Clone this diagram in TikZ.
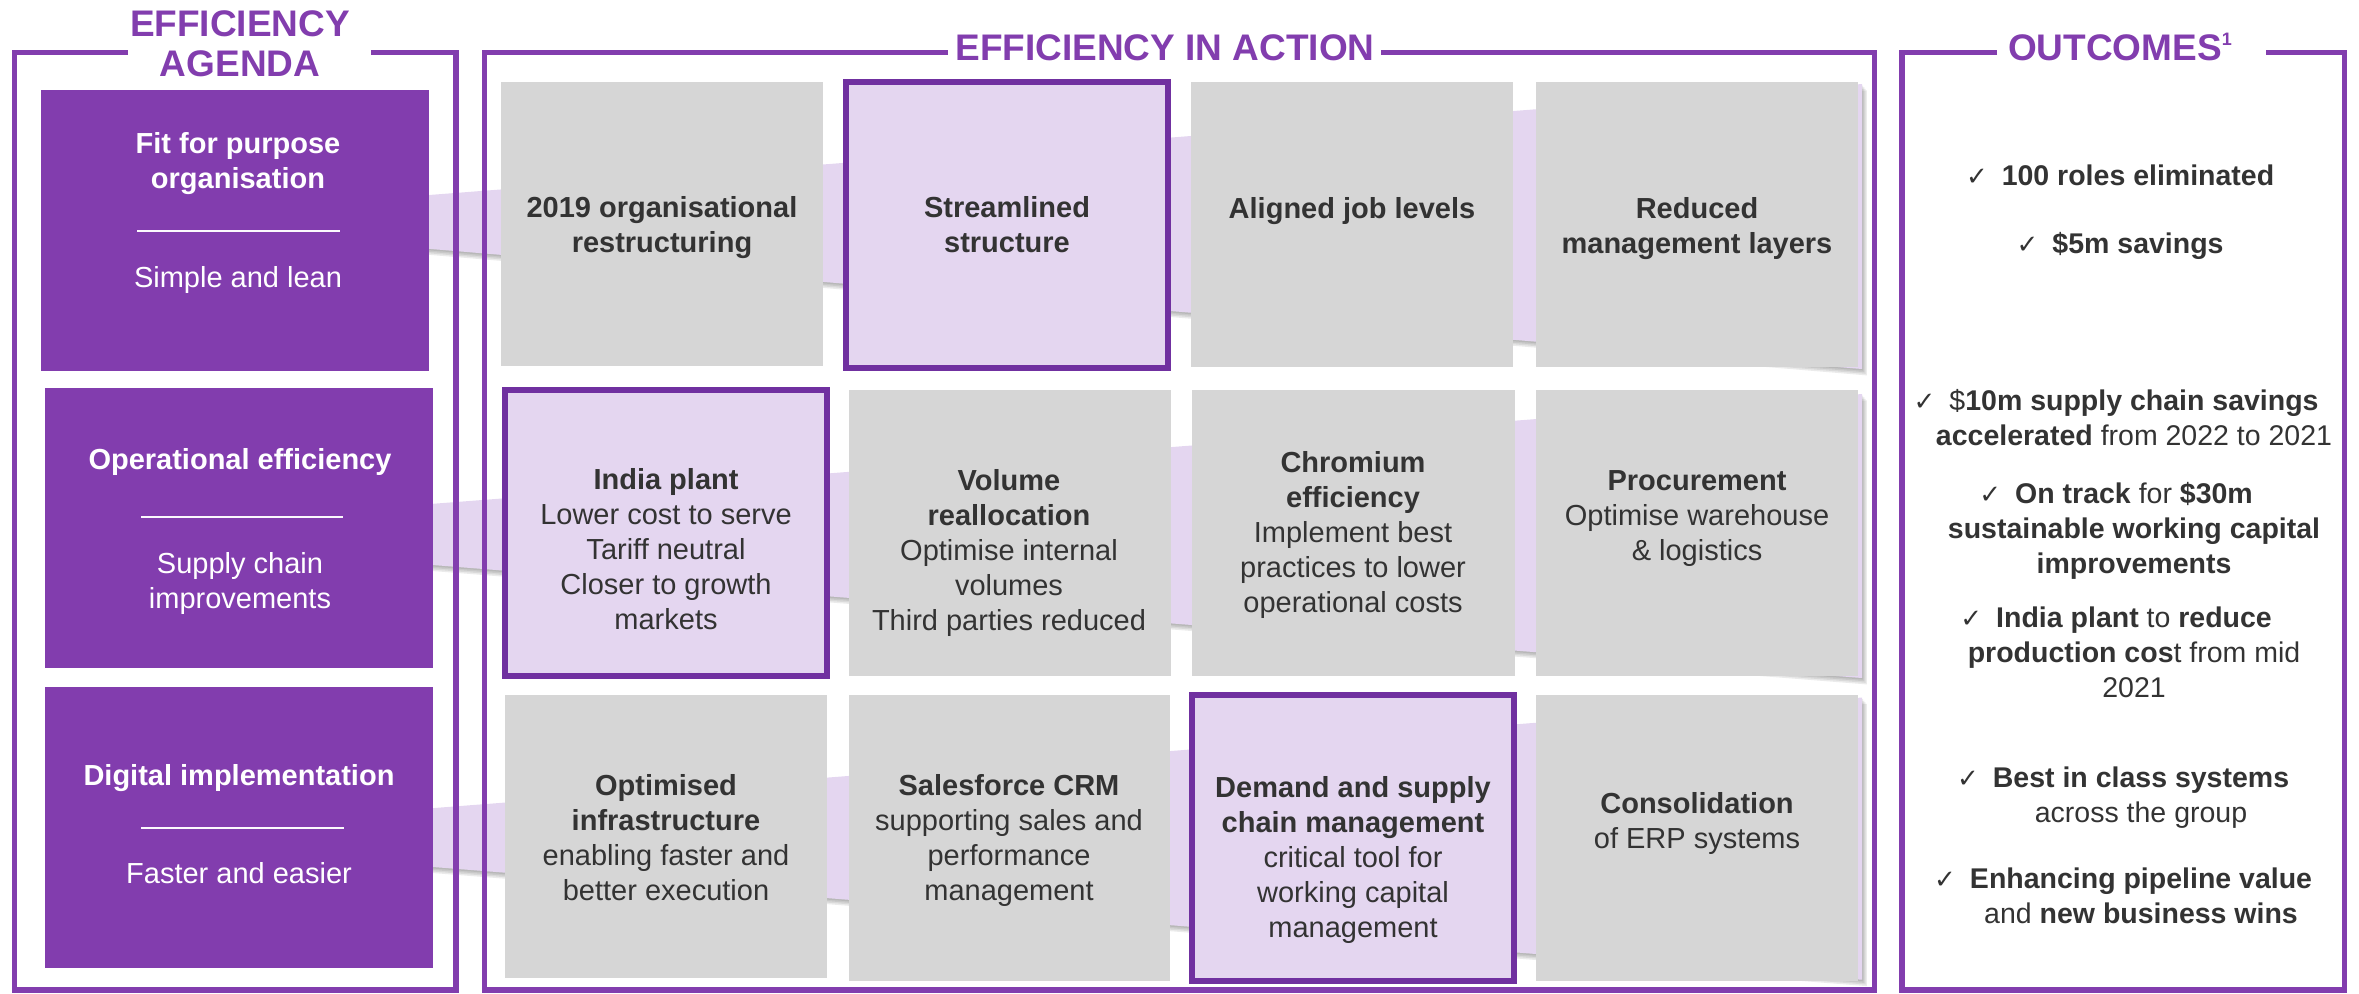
\documentclass[tikz,border=0pt]{standalone}
\usepackage{fontspec}
\setmainfont{Liberation Sans}
\newfontfamily\symfont{DejaVu Sans}
\usetikzlibrary{calc}

\definecolor{agendapurple}{RGB}{130,61,174}
\definecolor{deeppurple}{RGB}{112,48,160}
\definecolor{lavender}{RGB}{228,214,240}
\definecolor{tilegray}{RGB}{214,214,214}
\definecolor{inkgray}{RGB}{51,51,51}

\newcommand{\titlefont}{\fontsize{18.5pt}{20pt}\selectfont\bfseries}
\newcommand{\bodyfont}{\fontsize{14.5pt}{17.5pt}\selectfont}
\newcommand{\outfont}{\fontsize{14.25pt}{17.5pt}\selectfont}
% centred text block whose first baseline is the node's base
\newcommand{\boxtext}[2]{\parbox[t]{#1}{\centering #2}}
% hanging tick in front of an outcome
\newcommand{\chk}{\leavevmode\llap{{\symfont\fontsize{13pt}{13pt}\selectfont ✓}\hspace{7pt}}}
% rectangular panel given by its corners (in px)
\newcommand{\panel}[6]{\node[#2, minimum width={(#5-#3)*0.5pt}, minimum height={(#6-#4)*0.5pt}] (#1) at ({(#3+#5)/2},{(#4+#6)/2}) {};}

\tikzset{
  frameline/.style={draw=agendapurple, line width=2.75pt, line join=miter},
  band/.style={fill=lavender},
  bandshade/.style={fill=black, fill opacity=0.08},
  agenda/.style={fill=agendapurple, draw=none},
  tile/.style={fill=tilegray, draw=none},
  focus/.style={fill=lavender, draw=deeppurple, line width=3pt},
  sepline/.style={draw=white!85!lavender, line width=0.8pt},
  headline/.style={text=agendapurple, font=\titlefont, anchor=base},
  lbl/.style={text=inkgray, anchor=base, font=\bodyfont},
  agtext/.style={text=white, anchor=base, font=\bodyfont},
  outtext/.style={text=inkgray, anchor=base, font=\outfont},
}

\begin{document}
\begin{tikzpicture}[x=0.5pt, y=-0.5pt, every node/.style={inner sep=0pt, outer sep=0pt}]
\useasboundingbox (0,0) rectangle (2359,993);

% ribbons running behind each row, with a soft shadow
\foreach \xa/\ta/\ba/\tb/\bb in {300/205/238/84/369, 300/514/554.5/394/678, 300/818.4/856.5/697.5/979.7} {
  \foreach \s in {1,2,3,4} {
    \fill[bandshade] ({\xa+\s*1.2},{\ta+\s*1.6}) -- ({1862+\s*1.2},{\tb+\s*1.6}) -- ({1862+\s*1.2},{\bb+\s*1.6}) -- ({\xa+\s*1.2},{\ba+\s*1.6}) -- cycle;
  }
  \fill[band] (\xa,\ta) -- (1862,\tb) -- (1862,\bb) -- (\xa,\ba) -- cycle;
}

% column frames
\draw[frameline] (128,52.5) -- (14.5,52.5) -- (14.5,990) -- (456,990) -- (456,52.5) -- (371,52.5);
\draw[frameline] (948,52.5) -- (484.5,52.5) -- (484.5,990) -- (1874.5,990) -- (1874.5,52.5) -- (1381,52.5);
\draw[frameline] (1997,52.5) -- (1902,52.5) -- (1902,990) -- (2344.5,990) -- (2344.5,52.5) -- (2266,52.5);

% headings
\node[headline] (h1) at (240,36) {\boxtext{200pt}{EFFICIENCY\\AGENDA}};
\node[headline] (h2) at (1165,60) {EFFICIENCY IN ACTION};
\node[headline] (h3) at (2120,60) {OUTCOMES\raisebox{7.5pt}{\fontsize{9pt}{9pt}\selectfont 1}};

% agenda blocks
\panel{ag1}{agenda}{41}{90}{429}{371}
\panel{ag2}{agenda}{45}{388}{433}{668}
\panel{ag3}{agenda}{45}{687}{433}{968}
\draw[sepline] (137,231) -- (340,231);
\draw[sepline] (141,517) -- (343,517);
\draw[sepline] (141,828) -- (344,828);
\node[agtext] (a1t) at (238,153) {\boxtext{190pt}{\textbf{Fit for purpose\\organisation}}};
\node[agtext] (a1s) at (238,287) {\boxtext{190pt}{Simple and lean}};
\node[agtext] (a2t) at (240,469) {\boxtext{190pt}{\textbf{Operational efficiency}}};
\node[agtext] (a2s) at (240,573) {\boxtext{190pt}{Supply chain\\improvements}};
\node[agtext] (a3t) at (239,785) {\boxtext{190pt}{\textbf{Digital implementation}}};
\node[agtext] (a3s) at (239,883) {\boxtext{190pt}{Faster and easier}};

% action tiles
\panel{b11}{tile}{501}{82}{823}{366}
\panel{b12}{focus}{846}{82}{1168}{368}
\panel{b13}{tile}{1191}{82}{1513}{367}
\panel{b14}{tile}{1536}{82}{1858}{367}
\panel{b21}{focus}{505}{390}{827}{676}
\panel{b22}{tile}{849}{390}{1171}{676}
\panel{b23}{tile}{1192}{390}{1515}{676}
\panel{b24}{tile}{1536}{390}{1858}{676}
\panel{b31}{tile}{505}{695}{827}{978}
\panel{b32}{tile}{849}{695}{1170}{981}
\panel{b33}{focus}{1192}{695}{1514}{981}
\panel{b34}{tile}{1536}{695}{1858}{981}

\node[lbl] (t11) at (662,217) {\boxtext{160pt}{\textbf{2019 organisational\\restructuring}}};
\node[lbl] (t12) at (1007,217) {\boxtext{160pt}{\textbf{Streamlined\\structure}}};
\node[lbl] (t13) at (1352,218) {\boxtext{160pt}{\textbf{Aligned job levels}}};
\node[lbl] (t14) at (1697,218) {\boxtext{160pt}{\textbf{Reduced\\management layers}}};

\node[lbl] (t21) at (666,489) {\boxtext{160pt}{\textbf{India plant}\\Lower cost to serve\\Tariff neutral\\Closer to growth\\markets}};
\node[lbl] (t22) at (1009,490) {\boxtext{160pt}{\textbf{Volume\\reallocation}\\Optimise internal\\volumes\\Third parties reduced}};
\node[lbl] (t23) at (1353,472) {\boxtext{160pt}{\textbf{Chromium\\efficiency}\\Implement best\\practices to lower\\operational costs}};
\node[lbl] (t24) at (1697,490) {\boxtext{160pt}{\textbf{Procurement}\\Optimise warehouse\\\& logistics}};

\node[lbl] (t31) at (666,795) {\boxtext{160pt}{\textbf{Optimised\\infrastructure}\\enabling faster and\\better execution}};
\node[lbl] (t32) at (1009,795) {\boxtext{160pt}{\textbf{Salesforce CRM}\\supporting sales and\\performance\\management}};
\node[lbl] (t33) at (1353,797) {\boxtext{160pt}{\textbf{Demand and supply\\chain management}\\critical tool for\\working capital\\management}};
\node[lbl] (t34) at (1697,813) {\boxtext{160pt}{\textbf{Consolidation}\\of ERP systems}};

% outcomes
\node[outtext] (o1) at (2138,185) {\boxtext{215pt}{\chk\textbf{100 roles eliminated}}};
\node[outtext] (o2) at (2138,253) {\boxtext{215pt}{\chk\textbf{\$5m savings}}};
\node[outtext] (o3) at (2134,410) {\boxtext{215pt}{\chk\$\textbf{10m supply chain savings}\\\textbf{accelerated} from 2022 to 2021}};
\node[outtext] (o4) at (2134,503) {\boxtext{215pt}{\chk\textbf{On track} for \textbf{\$30m}\\\textbf{sustainable working capital}\\\textbf{improvements}}};
\node[outtext] (o5) at (2134,627) {\boxtext{215pt}{\chk\textbf{India plant} to \textbf{reduce}\\\textbf{production cos}t from mid\\2021}};
\node[outtext] (o6) at (2141,787) {\boxtext{215pt}{\chk\textbf{Best in class systems}\\across the group}};
\node[outtext] (o7) at (2141,888) {\boxtext{215pt}{\chk\textbf{Enhancing pipeline value}\\and \textbf{new business wins}}};
\end{tikzpicture}
\end{document}
